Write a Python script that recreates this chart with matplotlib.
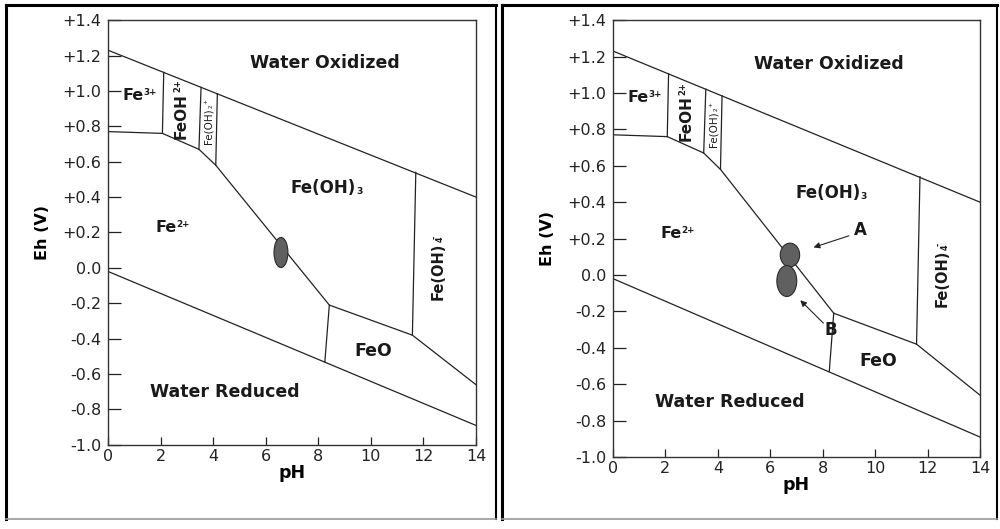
import matplotlib.pyplot as plt
from matplotlib.patches import Ellipse
from matplotlib.lines import Line2D

# Eh-pH diagram boundaries (pH, Eh in V)
upper_water_ph = [0, 14]
upper_water_eh = [1.23, 0.40]
lower_water_ph = [0, 14]
lower_water_eh = [-0.02, -0.89]
fe2_boundary_ph = [0, 2.07, 3.46, 4.10, 8.42, 11.58, 14]
fe2_boundary_eh = [0.77, 0.76, 0.67, 0.58, -0.21, -0.38, -0.66]
vertical_ph = [[2.07, 2.12], [3.46, 3.54], [4.10, 4.16], [11.58, 11.71], [8.42, 8.25]]
vertical_eh = [[0.76, 1.105], [0.67, 1.02], [0.58, 0.985], [-0.38, 0.54], [-0.21, -0.53]]

# sample points (centre pH, centre Eh, width pH, height V)
left_samples = [(6.58, 0.087, 0.53, 0.17)]
right_samples = [(6.75, 0.11, 0.74, 0.13), (6.63, -0.033, 0.76, 0.17)]

yticks = [-1.0, -0.8, -0.6, -0.4, -0.2, 0.0, 0.2, 0.4, 0.6, 0.8, 1.0, 1.2, 1.4]
ytick_labels = ['-1.0', '-0.8', '-0.6', '-0.4', '-0.2', '0.0', '+0.2', '+0.4',
                '+0.6', '+0.8', '+1.0', '+1.2', '+1.4']
xticks = [0, 2, 4, 6, 8, 10, 12, 14]

plt.rcParams['font.family'] = 'DejaVu Sans'

fig = plt.figure(figsize=(10, 5.29), dpi=100)
INK = '#1a1a1a'


def label(ax, x, y, main, sup=None, sub=None, size=11, rot=0, weight='bold'):
    # species name with small raised / lowered charge and count
    t = ax.text(x, y, main, fontsize=size, rotation=rot, fontweight=weight,
                ha='center', va='center', color=INK)
    small = size * 0.55
    if rot == 0:
        if sup:
            ax.annotate(sup, xy=(1, 0.97), xycoords=t, xytext=(0.2, 0),
                        textcoords='offset points', fontsize=small,
                        fontweight=weight, ha='left', va='top', color=INK)
        if sub:
            ax.annotate(sub, xy=(1, 0.05), xycoords=t, xytext=(0.2, 0),
                        textcoords='offset points', fontsize=small,
                        fontweight=weight, ha='left', va='bottom', color=INK)
    else:
        if sup:
            shift = 3.0 if sub else 0.2
            ax.annotate(sup, xy=(0.02, 1), xycoords=t, xytext=(0, shift),
                        textcoords='offset points', fontsize=small, rotation=90,
                        fontweight=weight, ha='left', va='bottom', color=INK)
        if sub:
            ax.annotate(sub, xy=(0.98, 1), xycoords=t, xytext=(0, 0.2),
                        textcoords='offset points', fontsize=small, rotation=90,
                        fontweight=weight, ha='right', va='bottom', color=INK)


def draw_panel(ax, samples):
    lw = 0.9
    ax.plot(upper_water_ph, upper_water_eh, color='#222222', lw=lw)
    ax.plot(lower_water_ph, lower_water_eh, color='#222222', lw=lw)
    ax.plot(fe2_boundary_ph, fe2_boundary_eh, color='#222222', lw=lw)
    for xs, ys in zip(vertical_ph, vertical_eh):
        ax.plot(xs, ys, color='#222222', lw=lw)

    for cx, cy, w, h in samples:
        ax.add_patch(Ellipse((cx, cy), w, h, facecolor='#606060',
                             edgecolor='#2a2a2a', lw=0.8, zorder=5))

    ax.set_xlim(0, 14)
    ax.set_ylim(-1.0, 1.4)
    ax.set_xticks(xticks)
    ax.set_yticks(yticks)
    ax.set_yticklabels(ytick_labels)
    ax.tick_params(axis='y', direction='in', length=9, width=0.9, pad=5,
                   labelsize=11.5, colors='#222222')
    ax.tick_params(axis='x', direction='in', length=6, width=0.9, pad=3,
                   labelsize=11.5, colors='#222222')
    for sp in ax.spines.values():
        sp.set_color('#333333')
        sp.set_linewidth(1.0)
    ax.set_xlabel('pH', fontsize=12.5, fontweight='bold', labelpad=0)
    ax.set_ylabel('Eh (V)', fontsize=11.5, fontweight='bold', labelpad=9)

    kw = dict(fontweight='bold', ha='center', va='center', color=INK)
    ax.text(8.25, 1.16, 'Water Oxidized', fontsize=12.5, **kw)
    ax.text(4.45, -0.70, 'Water Reduced', fontsize=12.5, **kw)
    ax.text(10.1, -0.47, 'FeO', fontsize=12.5, **kw)
    label(ax, 0.95, 0.975, 'Fe', sup='3+', size=11.5)
    label(ax, 2.2, 0.23, 'Fe', sup='2+', size=11.5)
    label(ax, 8.2, 0.45, 'Fe(OH)', sub='3', size=12)
    label(ax, 2.78, 0.86, 'FeOH', sup='2+', size=11, rot=90)
    label(ax, 3.83, 0.80, 'Fe(OH)', sup='+', sub='2', size=7.5, rot=90,
          weight='normal')
    label(ax, 12.55, -0.02, 'Fe(OH)', sup='-', sub='4', size=10.5, rot=90)


ax1 = fig.add_axes([0.108, 0.159, 0.368, 0.803])
draw_panel(ax1, left_samples)

ax2 = fig.add_axes([0.613, 0.136, 0.367, 0.826])
draw_panel(ax2, right_samples)
ax2.annotate('', xy=(7.55, 0.147), xytext=(9.1, 0.22),
             arrowprops=dict(arrowstyle='-|>', lw=0.8, color='#222222',
                             mutation_scale=9))
ax2.text(9.45, 0.245, 'A', fontsize=12, fontweight='bold', ha='center',
         va='center', color=INK)
ax2.annotate('', xy=(7.07, -0.128), xytext=(8.1, -0.275),
             arrowprops=dict(arrowstyle='-|>', lw=0.8, color='#222222',
                             mutation_scale=9))
ax2.text(8.32, -0.30, 'B', fontsize=12, fontweight='bold', ha='center',
         va='center', color=INK)

# panel frames in pixel positions converted to figure fraction
W, H = 1000.0, 529.0


def frame(x0, x1, y0, y1):
    fx0, fx1 = x0 / W, x1 / W
    fy0, fy1 = 1 - y1 / H, 1 - y0 / H
    fig.add_artist(Line2D([fx0, fx0], [fy0, fy1], color='black', lw=2.2))
    fig.add_artist(Line2D([fx0, fx1], [fy1, fy1], color='black', lw=2.2))
    fig.add_artist(Line2D([fx1, fx1], [fy0, fy1], color='black', lw=1.5))
    fig.add_artist(Line2D([fx0, fx1], [fy0, fy0], color='#9a9a9a', lw=1.2))


frame(6, 496, 5, 519)
frame(502, 997, 5, 519)

fig.savefig('out.png', dpi=100)
